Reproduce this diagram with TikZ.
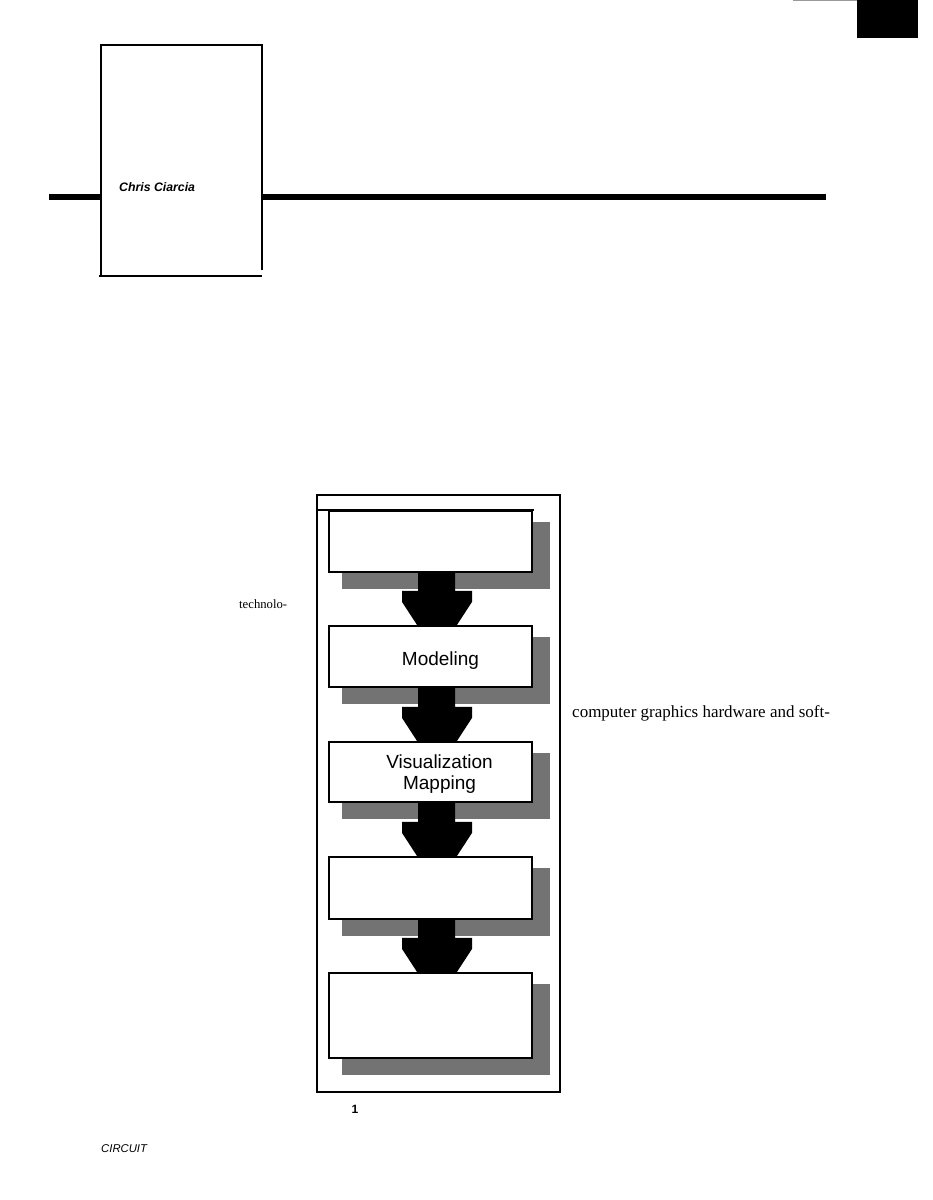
\documentclass[tikz,border=0pt]{standalone}
\usepackage{fontspec}
\setmainfont{Liberation Serif}
\setsansfont{Liberation Sans}
\usetikzlibrary{calc,backgrounds}
\newcommand\flowarr[2]{\fill[flowarrow] let \p1=(#1.south), \p2=(#2.north) in
 (\x1-12.5pt,\y1+1pt) -- (\x1-12.5pt,\y2+34pt) -- (\x1-28.5pt,\y2+34pt) -- (\x1-28.5pt,\y2+23pt) -- (\x1-13.5pt,\y2) -- (\x1+26.5pt,\y2) -- (\x1+41.5pt,\y2+23pt) -- (\x1+41.5pt,\y2+34pt) -- (\x1+24.5pt,\y2+34pt) -- (\x1+24.5pt,\y1+1pt) -- cycle;}
\begin{document}
\begin{tikzpicture}[x=1pt,y=-1pt,
  frame/.style={line width=2.3pt},
  stepbox/.style={draw,line width=2.2pt,fill=white,minimum width=203pt,inner sep=0pt},
  shade/.style={fill=black!55},
  lbl/.style={font=\sffamily\fontsize{19}{20.5}\selectfont,align=center,inner sep=0pt},
  rulebar/.style={line width=5.5pt},
  flowarrow/.style={fill=black}]
\useasboundingbox (0,0) rectangle (933,1200);
% top-right tab
\fill (857,0) rectangle (918,38);
\draw[black!40,line width=1pt] (793,0.5) -- (857,0.5);
% header box
\node[minimum width=161pt,minimum height=231pt,inner sep=0pt] (hb) at (181.5,160.5) {};
\draw[frame] (hb.south west) -- (hb.north west) -- (hb.north east) -- ($(hb.south east)+(0,-6)$);
\draw[frame] ($(hb.south west)+(-2,0)$) -- (hb.south east);
\coordinate (rl) at (49,197);
\coordinate (rr) at (826,197);
\draw[rulebar] (rl) -- (hb.west |- rl);
\draw[rulebar] (hb.east |- rl) -- (rr);
\node[anchor=west,font=\sffamily\bfseries\itshape\fontsize{12.3}{14}\selectfont,inner sep=0pt] (author) at (119,187.5) {Chris Ciarcia};
% figure frame
\node[draw,frame,minimum width=243pt,minimum height=597pt,inner sep=0pt] (fig) at (438.5,793.5) {};
\node[stepbox,minimum height=61pt] (b1) at (430.5,541.5) {};
\node[stepbox,minimum height=61pt] (b2) at (430.5,656.5) {};
\node[stepbox,minimum height=60pt] (b3) at (430.5,772) {};
\node[stepbox,minimum height=62pt] (b4) at (430.5,888) {};
\node[stepbox,minimum height=85pt] (b5) at (430.5,1015.5) {};
\begin{scope}[on background layer]
\foreach \b in {b1,b2,b3,b4,b5}{
  \fill[shade] ($(\b.north west)+(14,12)$) rectangle ($(\b.south east)+(17,16)$);
}
\flowarr{b1}{b2}
\flowarr{b2}{b3}
\flowarr{b3}{b4}
\flowarr{b4}{b5}
\end{scope}
\draw[line width=1.6pt] (fig.west |- b1.north) -- ($(b1.north east)+(1,0)$);
\node[lbl] (t2) at ($(b2.center)+(10,4)$) {Modeling};
\node[lbl] (t3) at ($(b3.center)+(9,2)$) {Visualization\\Mapping};
% body text fragments
\node[anchor=west,font=\fontsize{12.7}{14}\selectfont,inner sep=0pt] (tx1) at (239,604) {technolo-};
\node[anchor=west,font=\fontsize{17}{19}\selectfont,inner sep=0pt] (tx2) at (572,713) {computer graphics hardware and soft-};
\node[font=\sffamily\bfseries\fontsize{12}{13}\selectfont,inner sep=0pt] (fignum) at (355,1109) {1};
\node[anchor=west,font=\sffamily\itshape\fontsize{11.3}{13}\selectfont,inner sep=0pt] (footer) at (101,1149) {CIRCUIT};
\end{tikzpicture}
\end{document}
